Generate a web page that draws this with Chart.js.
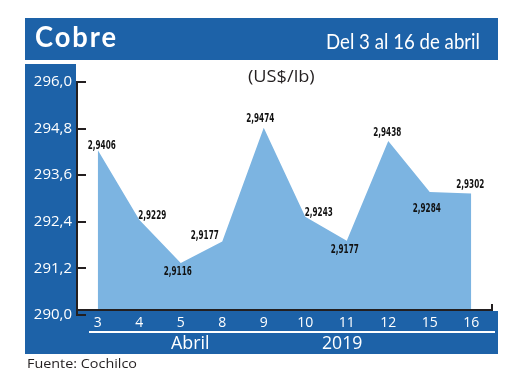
<!DOCTYPE html>
<html>
<head>
<meta charset="utf-8">
<script src="https://cdn.jsdelivr.net/npm/chart.js@4.4.0/dist/chart.umd.min.js"></script>
<style>
html,body{margin:0;padding:0;background:#fff;width:520px;height:390px;overflow:hidden;}
#wrap{position:relative;width:520px;height:390px;}
.blk{position:absolute;background:#1d62a8;}
.txt{position:absolute;white-space:nowrap;line-height:1;left:0;top:0;}
#c{position:absolute;left:0;top:0;}
</style>
</head>
<body>
<div id="wrap">
  <div class="blk" style="left:25px;top:18px;width:473px;height:42px"></div>
  <div class="blk" style="left:25px;top:64px;width:51px;height:290px"></div>
  <div class="blk" style="left:25px;top:311px;width:473px;height:43px"></div>
  <canvas id="c" width="520" height="390"></canvas>
  <div class="blk" style="left:89px;top:331px;width:406px;height:1.5px;background:#fff"></div>
  <div class="txt" id="tTitle" style="color:#fff">Cobre</div>
  <div class="txt" id="tDate" style="color:#fff">Del 3 al 16 de abril</div>
  <div class="txt" id="tUnit" style="color:#231f20">(US$/lb)</div>
  <div class="txt" id="tMonth" style="color:#fff">Abril</div>
  <div class="txt" id="tYear" style="color:#fff">2019</div>
  <div class="txt" id="tSource" style="color:#231f20">Fuente: Cochilco</div>
</div>
<script>
// ---- data ----
const days = ['3', '4', '5', '8', '9', '10', '11', '12', '15', '16'];
const prices = [294.25, 292.45, 291.34, 291.89, 294.82, 292.53, 291.91, 294.48, 293.17, 293.13];
const priceLabels = ['2,9406', '2,9229', '2,9116', '2,9177', '2,9474', '2,9243', '2,9177', '2,9438', '2,9284', '2,9302'];
const yMin = 290.0;
const yMax = 296.0;
const yTickCount = 6;
const title = 'Cobre';
const period = 'Del 3 al 16 de abril';
const unit = '(US$/lb)';
const month = 'Abril';
const year = '2019';
const source = 'Fuente: Cochilco';

// ---- styles ----
const AREA_BLUE = '#7cb4e1';
const AXIS_COLOR = '#231f20';
const AXIS_LINE_GAP = 5;   // x axis line sits a little above the 290 tick
const labelOffsets = [[4,-4.5],[13,-4],[-3,8.5],[-17.5,-5.5],[-3.5,-9.5],[13.5,-4.5],[-2,8.8],[-1,-8.2],[-3,16.8],[-1,-8.8]];

document.getElementById('tTitle').textContent = title;
document.getElementById('tDate').textContent = period;
document.getElementById('tUnit').textContent = unit;
document.getElementById('tMonth').textContent = month;
document.getElementById('tYear').textContent = year;
document.getElementById('tSource').textContent = source;

function placeText(id, o) {
  const el = document.getElementById(id);
  el.style.fontFamily = o.family;
  el.style.fontSize = o.size + 'px';
  el.style.fontWeight = o.weight || 'normal';
  if (o.spacing) el.style.letterSpacing = o.spacing + 'px';
  el.style.top = (o.baseline - 0.888 * o.size) + 'px';
  const w = el.getBoundingClientRect().width;
  const s = o.width ? o.width / w : 1;
  let left;
  if (o.align === 'left') left = o.x;
  else if (o.align === 'right') left = o.x - w * s;
  else left = o.x - w * s / 2;
  el.style.left = left + 'px';
  el.style.transformOrigin = '0 0';
  el.style.transform = 'scaleX(' + s + ')';
}
placeText('tTitle', {family: 'Lato', size: 28, weight: 'bold', spacing: 2, align: 'left', x: 35, baseline: 47, width: 83});
placeText('tDate', {family: 'Lato', size: 22, align: 'right', x: 480, baseline: 49.3, width: 154});
placeText('tUnit', {family: '"Open Sans"', size: 16, align: 'center', x: 281.7, baseline: 82.5, width: 66.7});
placeText('tMonth', {family: '"Open Sans"', size: 18, align: 'center', x: 190, baseline: 348.5, width: 38.6});
placeText('tYear', {family: '"Open Sans"', size: 18, align: 'center', x: 342.5, baseline: 348.5, width: 40.4});
placeText('tSource', {family: '"Open Sans"', size: 13.5, align: 'left', x: 27, baseline: 369.3, width: 110});

const clipPlugin = {
  id: 'axisClip',
  beforeDatasetsDraw(chart) {
    const {ctx, chartArea} = chart;
    const y = chart.scales.y;
    ctx.save();
    ctx.beginPath();
    ctx.rect(chartArea.left, 0, chartArea.right - chartArea.left, y.bottom - AXIS_LINE_GAP);
    ctx.clip();
  },
  afterDatasetsDraw(chart) {
    chart.ctx.restore();
  }
};

const axisPlugin = {
  id: 'axisMarks',
  afterDatasetsDraw(chart) {
    const {ctx} = chart;
    const x = chart.scales.x, y = chart.scales.y;
    ctx.save();
    ctx.strokeStyle = AXIS_COLOR;
    ctx.lineWidth = 2;
    ctx.beginPath();
    y.ticks.forEach(t => {
      const py = Math.round(y.getPixelForValue(t.value));
      ctx.moveTo(y.right - 1, py);
      ctx.lineTo(y.right + 9, py);
    });
    const ay = y.bottom - AXIS_LINE_GAP;
    ctx.moveTo(y.right - 1, ay);
    ctx.lineTo(x.right, ay);
    ctx.lineTo(x.right, ay - 6);
    ctx.stroke();
    ctx.restore();
  }
};

const labelPlugin = {
  id: 'valueLabels',
  afterDatasetsDraw(chart) {
    const {ctx} = chart;
    const meta = chart.getDatasetMeta(0);
    ctx.save();
    ctx.font = 'bold 13px "Liberation Sans Narrow", "DejaVu Sans Condensed", sans-serif';
    ctx.fillStyle = '#111111';
    ctx.textAlign = 'center';
    ctx.textBaseline = 'middle';
    const sx = 28 / ctx.measureText('2,9406').width;
    meta.data.forEach((pt, i) => {
      const [dx, dy] = labelOffsets[i];
      ctx.save();
      ctx.translate(pt.x + dx, pt.y + dy);
      ctx.scale(sx, 1);
      ctx.fillText(priceLabels[i], 0, 0);
      ctx.restore();
    });
    ctx.restore();
  }
};

new Chart(document.getElementById('c'), {
  type: 'line',
  data: {
    labels: days,
    datasets: [{
      data: prices,
      fill: 'start',
      backgroundColor: AREA_BLUE,
      borderWidth: 0,
      borderColor: AREA_BLUE,
      pointRadius: 0,
      tension: 0
    }]
  },
  options: {
    responsive: false,
    animation: false,
    devicePixelRatio: 1,
    layout: {padding: {left: 25, right: 28, top: 82, bottom: 0}},
    plugins: {legend: {display: false}, tooltip: {enabled: false}, title: {display: false}},
    scales: {
      x: {
        type: 'category',
        offset: true,
        grid: {display: false, drawTicks: false},
        border: {display: false},
        ticks: {color: '#ffffff', font: {family: 'Open Sans', size: 14}, padding: 0, autoSkip: false, maxRotation: 0},
        afterFit(s) { s.height = 75; }
      },
      y: {
        min: yMin,
        max: yMax,
        grid: {display: false, drawTicks: false},
        border: {display: true, color: AXIS_COLOR, width: 2},
        ticks: {
          count: yTickCount,
          color: '#ffffff',
          font: {family: 'Open Sans', size: 15},
          padding: 5,
          callback: v => Number(v).toFixed(1).replace('.', ',')
        },
        afterFit(s) { s.width = 52; }
      }
    }
  },
  plugins: [clipPlugin, axisPlugin, labelPlugin]
});
</script>
</body>
</html>
